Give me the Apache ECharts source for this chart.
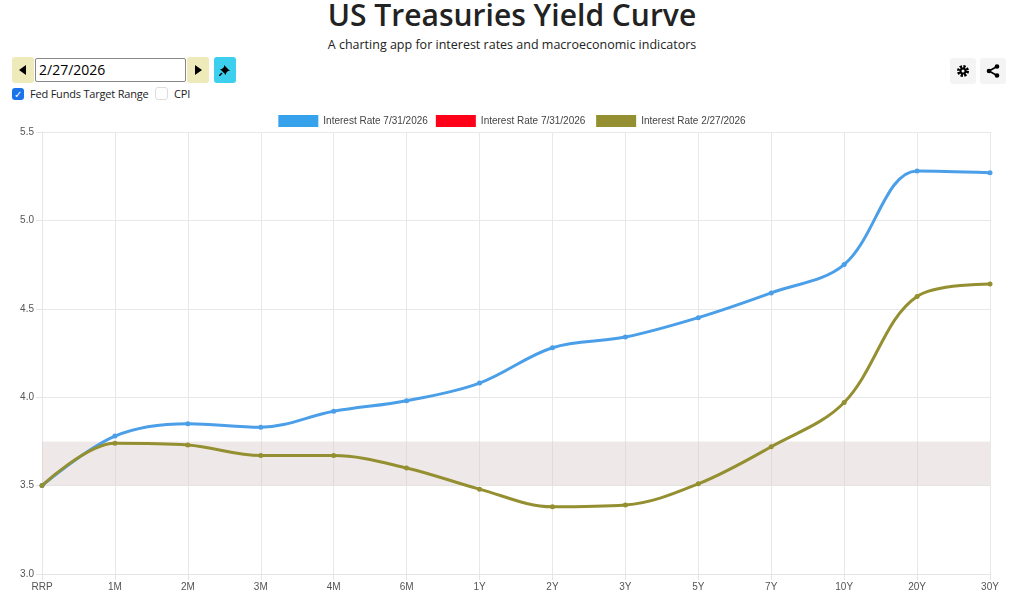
<!DOCTYPE html>
<html>
<head>
<meta charset="utf-8">
<script src="https://cdn.jsdelivr.net/npm/echarts@6/dist/echarts.min.js"></script>
<style>
  body { margin: 0; width: 1024px; height: 616px; font-family: "Segoe UI", "Open Sans", "Noto Sans", sans-serif; background: #fff; overflow: hidden; position: relative; }
  h1 { position: absolute; top: -6px; left: 0; width: 1024px; text-align: center; margin: 0; font-size: 30px; font-weight: 600; color: #222; }
  .sub { position: absolute; top: 36px; width: 1024px; text-align: center; font-size: 12.5px; color: #222; }
  .btn { position: absolute; top: 57px; width: 22px; height: 26px; background: #efeab9; border-radius: 3px; display: flex; align-items: center; justify-content: center; }
  .date { position: absolute; top: 58px; left: 35px; width: 146px; height: 22px; border: 1px solid #888; border-radius: 2px; font-size: 14px; line-height: 22px; padding-left: 3px; }
  .chk { position: absolute; top: 86px; font-size: 11px; letter-spacing: -0.2px; color: #222; display: flex; align-items: center; white-space: nowrap; }
  .box { width: 12px; height: 12px; border-radius: 3px; margin-right: 6px; }
  .icon { position: absolute; top: 58px; width: 26px; height: 26px; background: #f4f4f4; border-radius: 3px; display: flex; align-items: center; justify-content: center; }
  #chart { position: absolute; left: 0; top: 105px; width: 1024px; height: 505px; }
</style>
</head>
<body>
<h1>US Treasuries Yield Curve</h1>
<div class="sub">A charting app for interest rates and macroeconomic indicators</div>
<div class="btn" style="left:12px"><svg width="8" height="10"><polygon points="7,0 7,10 0,5" fill="#000"/></svg></div>
<div class="date">2/27/2026</div>
<div class="btn" style="left:187px"><svg width="8" height="10"><polygon points="1,0 1,10 8,5" fill="#000"/></svg></div>
<div class="btn" style="left:214px;background:#3cd0ee"><svg width="12" height="12" viewBox="0 0 12 12"><polygon points="5,1 11,7 9,7 7,9 7,11 1,5 3,5 5,3" fill="#000"/><line x1="3" y1="9" x2="0" y2="12" stroke="#000" stroke-width="1.5"/></svg></div>
<div class="chk" style="left:12px"><div class="box" style="background:#1a73e8;color:#fff;font-size:10px;line-height:12px;text-align:center">✓</div>Fed Funds Target Range</div>
<div class="chk" style="left:155px"><div class="box" style="border:1px solid #ddd;width:11px;height:11px;background:#fff"></div>CPI</div>
<div class="icon" style="left:950px"><svg width="14" height="14" viewBox="0 0 14 14"><circle cx="7" cy="7" r="4.5" fill="none" stroke="#000" stroke-width="3" stroke-dasharray="2.2 1.3"/><circle cx="7" cy="7" r="3.5" fill="#000"/><circle cx="7" cy="7" r="1.5" fill="#f4f4f4"/></svg></div>
<div class="icon" style="left:980px"><svg width="14" height="14" viewBox="0 0 14 14"><line x1="3" y1="7" x2="11" y2="2.5" stroke="#000" stroke-width="1.5"/><line x1="3" y1="7" x2="11" y2="11.5" stroke="#000" stroke-width="1.5"/><circle cx="3" cy="7" r="2.3"/><circle cx="11" cy="2.5" r="2.3"/><circle cx="11" cy="11.5" r="2.3"/></svg></div>
<div id="chart"></div>
<script>
var tenors = ["RRP", "1M", "2M", "3M", "4M", "6M", "1Y", "2Y", "3Y", "5Y", "7Y", "10Y", "20Y", "30Y"];
var rateJul = [3.5, 3.78, 3.85, 3.83, 3.92, 3.98, 4.08, 4.28, 4.34, 4.45, 4.59, 4.75, 5.28, 5.27];
var rateJulAlt = [];
var rateFeb = [3.5, 3.74, 3.73, 3.67, 3.67, 3.60, 3.48, 3.38, 3.39, 3.51, 3.72, 3.97, 4.57, 4.64];
var fedRange = [3.5, 3.75];

var myChart = echarts.init(document.getElementById("chart"));
var option = {
  animation: false,
  legend: {
    top: 5,
    itemWidth: 40,
    itemHeight: 12,
    itemGap: 8,
    textStyle: { fontSize: 10, color: "#444", fontFamily: "Arial, Liberation Sans" },
    data: [
      { name: "Interest Rate 7/31/2026", icon: "rect", itemStyle: { color: "#36a2eb" } },
      { name: "Interest Rate 7/31/2026 ", icon: "rect", itemStyle: { color: "#ff0019" } },
      { name: "Interest Rate 2/27/2026", icon: "rect", itemStyle: { color: "#948f30" } },
    ],
  },
  grid: { left: 42, right: 34, top: 27, bottom: 36 },
  xAxis: {
    type: "category",
    boundaryGap: false,
    data: tenors,
    axisTick: { show: true, length: 6, lineStyle: { color: "#e5e5e5" } },
    axisLine: { lineStyle: { color: "#e5e5e5" } },
    axisLabel: { color: "#555", fontSize: 10, margin: 8, fontFamily: "Arial, Liberation Sans" },
    splitLine: { show: true, lineStyle: { color: "#e8e8e8" } },
  },
  yAxis: {
    type: "value",
    min: 3.0,
    max: 5.5,
    interval: 0.5,
    axisLine: { show: true, lineStyle: { color: "#e5e5e5" } },
    axisTick: { show: true, length: 6, lineStyle: { color: "#e5e5e5" } },
    axisLabel: { color: "#555", fontSize: 10, fontFamily: "Arial, Liberation Sans", formatter: function (v) { return v.toFixed(1); } },
    splitLine: { lineStyle: { color: "#e8e8e8" } },
  },
  series: [
    {
      name: "Interest Rate 7/31/2026",
      type: "line",
      smooth: 0.35,
      data: rateJul,
      symbol: "circle",
      symbolSize: 5,
      lineStyle: { color: "#4a9fe8", width: 3 },
      itemStyle: { color: "#4a9fe8" },
      markArea: {
        silent: true,
        itemStyle: { color: "rgba(220,205,205,0.45)" },
        data: [[{ yAxis: fedRange[0] }, { yAxis: fedRange[1] }]],
      },
    },
    {
      name: "Interest Rate 7/31/2026 ",
      type: "line",
      data: rateJulAlt,
      itemStyle: { color: "#ff0019" },
    },
    {
      name: "Interest Rate 2/27/2026",
      type: "line",
      smooth: 0.35,
      data: rateFeb,
      symbol: "circle",
      symbolSize: 5,
      lineStyle: { color: "#948f30", width: 3 },
      itemStyle: { color: "#948f30" },
    },
  ],
};
myChart.setOption(option);
</script>
</body>
</html>
